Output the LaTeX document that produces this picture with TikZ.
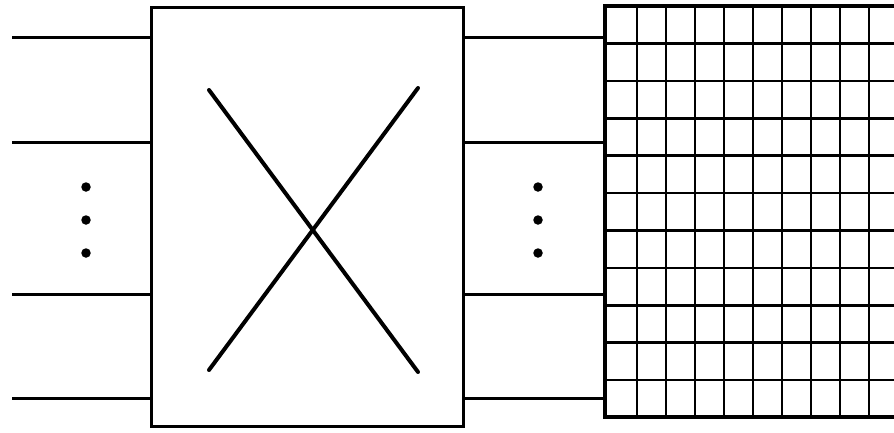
\documentclass[tikz,border=0pt]{standalone}
\usepackage{tikz}
\usetikzlibrary{calc}

\begin{document}
\begin{tikzpicture}[x=1pt,y=-1pt,
    wire/.style={line width=3pt,line cap=butt},
    cell/.style={line width=2.6pt},
    dotmark/.style={circle,fill=black,inner sep=0pt,minimum size=9.5pt}]
  \useasboundingbox (0,0) rectangle (894,432);
  \clip (0,0) rectangle (894,432);
  % switch box with the cross
  \node[draw,line width=3pt,minimum width=312pt,minimum height=419pt,inner sep=0pt] (switch) at (307,217) {};
  \coordinate (crossA) at (209,90);
  \coordinate (crossB) at (418,372);
  \coordinate (crossC) at (418,88);
  \coordinate (crossD) at (209,370);
  \draw[line width=4pt,line cap=round] (crossA) -- (crossB);
  \draw[line width=4pt,line cap=round] (crossC) -- (crossD);
  % input and output lines
  \foreach \y/\n in {37/a,142/b,294/c,398/d} {
    \coordinate (in\n) at (12,\y);
    \coordinate (out\n) at (604,\y);
    \draw[wire] (in\n) -- (in\n -| switch.west);
    \draw[wire] (in\n -| switch.east) -- (out\n);
  }
  % dots
  \foreach \y/\n in {187/1,220/2,253/3} {
    \node[dotmark] (ldot\n) at (86,\y) {};
    \node[dotmark] (rdot\n) at (538,\y) {};
  }
  % grid of cells
  \foreach \i in {0,...,9}
    \draw[cell] ({637+29*\i},6) -- ({637+29*\i},417);
  \foreach \j in {1,...,10}
    \draw[cell] (605,{6+37.4*\j}) -- (900,{6+37.4*\j});
  \draw[line width=4.5pt] (900,6) -- (605,6) -- (605,417) -- (900,417);
\end{tikzpicture}
\end{document}
